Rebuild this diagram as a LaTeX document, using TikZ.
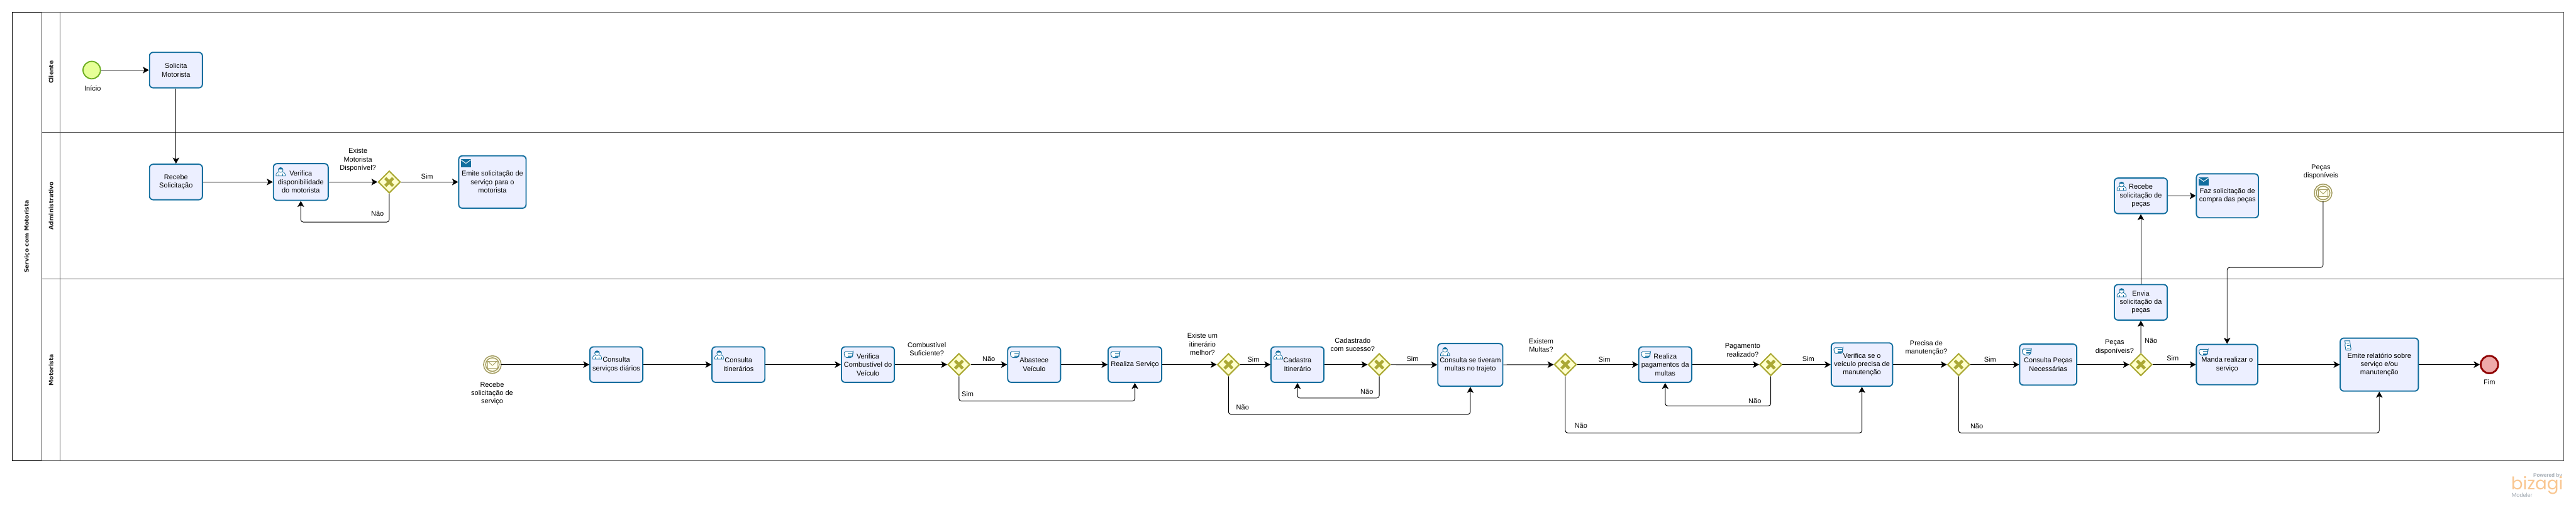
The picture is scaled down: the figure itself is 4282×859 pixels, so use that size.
\documentclass[tikz,border=0pt]{standalone}
\usepackage{fontspec}
\setmainfont{Liberation Sans}
\newfontfamily\lanefont{DejaVu Sans}
\newfontfamily\logofont{Poppins}
\usetikzlibrary{arrows.meta, shapes.geometric}

\definecolor{taskfill}{HTML}{ECEFFF}
\definecolor{taskline}{HTML}{126E9E}
\definecolor{gatefill}{HTML}{FFFFCC}
\definecolor{gateline}{HTML}{ABA935}
\definecolor{startfill}{HTML}{E6FF97}
\definecolor{startline}{HTML}{6DAE22}
\definecolor{msgfill}{HTML}{FFFFEE}
\definecolor{msgline}{HTML}{A39C62}
\definecolor{endfill}{HTML}{EEA9A9}
\definecolor{endline}{HTML}{8F0000}
\definecolor{laneline}{HTML}{555555}
\definecolor{logoorange}{HTML}{F9C690}
\definecolor{logogray}{HTML}{A3ABB3}

\begin{document}
\begin{tikzpicture}[
  x=1pt, y=-1pt,
  >={Stealth[length=10pt, width=11pt, inset=2.5pt]},
  lanebox/.style={draw=laneline, line width=1pt, outer sep=0pt, anchor=north west},
  lanetitle/.style={font=\lanefont\bfseries\fontsize{9.6}{11}\selectfont, text=black!90, rotate=90},
  task/.style 2 args={draw=taskline, line width=2pt, fill=taskfill, rounded corners=6pt,
    minimum width=#1, minimum height=#2, inner sep=0pt, align=center,
    font=\fontsize{11.5}{14}\selectfont},
  gate/.style={diamond, aspect=1, draw=gateline, line width=2.2pt, fill=gatefill,
    minimum width=37pt, minimum height=37pt, inner sep=0pt,
    path picture={
      \draw[gateline, line width=5pt]
        ([shift={(-6.5,-6.5)}]path picture bounding box.center) -- ++(13,13)
        ([shift={(6.5,-6.5)}]path picture bounding box.center) -- ++(-13,13);}},
  startev/.style={circle, draw=startline, line width=2pt, fill=startfill, minimum size=29pt, inner sep=0pt},
  msgev/.style={circle, draw=msgline, line width=1.7pt, double=msgfill, double distance=1.6pt,
    fill=msgfill, minimum size=26pt, inner sep=0pt},
  endev/.style={circle, draw=endline, line width=3pt, fill=endfill, minimum size=29pt, inner sep=0pt},
  txt/.style={inner sep=0pt, align=center, font=\fontsize{11.5}{14}\selectfont},
  flow/.style={->, line width=1pt, rounded corners=4pt},
  icon/.style={taskline, line width=0.8pt},
  usericon/.pic={
    \draw[icon, fill=white] (5.5,21.5) -- (5.5,18.5) .. controls (5.5,15.5) and (9,15.5) .. (10,14.5)
      -- (16,14.5) .. controls (17,15.5) and (20.5,15.5) .. (20.5,18.5) -- (20.5,21.5) -- cycle;
    \draw[icon, fill=white] (13,11.5) circle[radius=4];
    \fill[taskline] (9.2,10.5) .. controls (9.5,6.5) and (16.5,6.5) .. (16.8,10.5) -- cycle;
    \draw[icon] (9.5,21.5) -- (9.5,18) (16.5,21.5) -- (16.5,18);
  },
  manualicon/.pic={
    \draw[icon, fill=white, line width=1pt, rounded corners=2pt] (5.5,9) -- (21,9) -- (19.5,12) -- (20,15) -- (18,19)
      -- (8,19) -- (5.5,15) -- cycle;
    \draw[icon] (12,12) -- (20,12) (12,15) -- (19.5,15) (12,17) -- (18,17);
  },
  scripticon/.pic={
    \draw[icon, fill=white, line width=1pt] (8.5,5.5) -- (17,5.5) .. controls (19,9) and (16,11) .. (18,14)
      .. controls (19.5,17) and (18.5,19) .. (18.5,21) -- (10.5,21)
      .. controls (11,18) and (8.5,16) .. (9,13) .. controls (10,10) and (9.5,8) .. (8.5,5.5) -- cycle;
    \draw[icon] (11.5,9.5) -- (16,9.5) (12,13) -- (16.5,13) (12.5,17) -- (17,17);
  },
  msgicon/.pic={
    \fill[taskline] (4.5,7) rectangle (21.5,20);
    \draw[white, line width=1pt] (4.5,7.5) -- (13,13.5) -- (21.5,7.5);
  },
  envelope/.pic={
    \draw[msgline, line width=0.9pt] (-8,-6) rectangle (8,6);
    \draw[msgline, line width=0.9pt] (-8,-6) -- (0,1.5) -- (8,-6);
  },
]
\useasboundingbox (0,0) rectangle (4282,859);

% --- Pool and lanes ---
\node[lanebox, draw=black, minimum width=50pt, minimum height=746pt] (pool) at (20,20) {};
\node[lanebox, minimum width=4192pt, minimum height=200pt] (lanecliente) at (70,20) {};
\node[lanebox, minimum width=4192pt, minimum height=244pt] (laneadmin) at (70,220) {};
\node[lanebox, minimum width=4192pt, minimum height=302pt] (lanemotorista) at (70,464) {};
\node[lanebox, minimum width=30pt, minimum height=200pt] (headcliente) at (70,20) {};
\node[lanebox, minimum width=30pt, minimum height=244pt] (headadmin) at (70,220) {};
\node[lanebox, minimum width=30pt, minimum height=302pt] (headmotorista) at (70,464) {};

\node[lanetitle] (titlepool) at (pool.center) {Serviço com Motorista};
\node[lanetitle] (titlecliente) at (headcliente.center) {Cliente};
\node[lanetitle] (titleadmin) at (headadmin.center) {Administrativo};
\node[lanetitle] (titlemotorista) at (headmotorista.center) {Motorista};

% --- Cliente ---
\node[startev] (inicio) at (152.5,116.5) {};
\node[txt] (txtinicio) at (154,147) {Início};
\node[task={88pt}{59pt}] (solicita) at (292.5,116.5) {Solicita\\Motorista};

% --- Administrativo ---
\node[task={88pt}{59pt}] (recebesol) at (292.5,302.5) {Recebe\\Solicitação};
\node[task={91pt}{61pt}] (verifdisp) at (500,302.5) {Verifica\\disponibilidade\\do motorista};
\node[gate] (gwdisp) at (647,302.5) {};
\node[txt] (txtdisp) at (595,266) {Existe\\Motorista\\Disponível?};
\node[task={112pt}{87pt}] (emitesol) at (818.5,302.5) {Emite solicitação de\\serviço para o\\motorista};
\node[txt] (simdisp) at (710,293) {Sim};
\node[txt] (naodisp) at (627.5,355) {Não};

\node[task={88pt}{59pt}] (recebepecas) at (3558.6,325.5) {Recebe\\solicitação de\\peças};
\node[task={103pt}{73pt}] (fazcompra) at (3702.5,325.5) {Faz solicitação de\\compra das peças};
\node[msgev] (evpecas) at (3861.6,320.7) {};
\node[txt] (txtevpecas) at (3858,286) {Peças\\disponíveis};

% --- Motorista ---
\node[msgev] (evrecebe) at (818.5,606) {};
\node[txt] (txtevrecebe) at (818,654) {Recebe\\solicitação de\\serviço};
\node[task={88pt}{59pt}] (consserv) at (1024.5,606) {Consulta\\serviços diários};
\node[task={88pt}{59pt}] (consitin) at (1227.5,606) {Consulta\\Itinerários};
\node[task={88pt}{59pt}] (verifcomb) at (1442.7,606) {Verifica\\Combustível do\\Veículo};
\node[gate] (gwcomb) at (1594,606) {};
\node[txt] (txtcomb) at (1540.6,580) {Combustível\\Suficiente?};
\node[txt] (naocomb) at (1643.6,596) {Não};
\node[txt] (simcomb) at (1608.5,655) {Sim};
\node[task={88pt}{59pt}] (abastece) at (1719,606) {Abastece\\Veículo};
\node[task={89pt}{59pt}] (realiza) at (1886.5,606) {Realiza Serviço};
\node[gate] (gwitin) at (2042,606) {};
\node[txt] (txtitin) at (1998.8,572) {Existe um\\itinerário\\melhor?};
\node[txt] (simitin) at (2083.6,598) {Sim};
\node[txt] (naoitin) at (2065.5,677) {Não};
\node[task={88pt}{59pt}] (cadastra) at (2156.7,606) {Cadastra\\Itinerário};
\node[gate] (gwcad) at (2292.7,606) {};
\node[txt] (txtcad) at (2248.5,573) {Cadastrado\\com sucesso?};
\node[txt] (simcad) at (2348,596) {Sim};
\node[txt] (naocad) at (2272,651) {Não};
\node[task={108pt}{71pt}] (consmultas) at (2444,606.5) {Consulta se tiveram\\multas no trajeto};
\node[gate] (gwmultas) at (2602,606) {};
\node[txt] (txtmultas) at (2561.8,574) {Existem\\Multas?};
\node[txt] (simmultas) at (2667,597) {Sim};
\node[txt] (naomultas) at (2628,707) {Não};
\node[task={88pt}{59pt}] (pagamento) at (2768,606) {Realiza\\pagamentos da\\multas};
\node[gate] (gwpag) at (2943.5,606) {};
\node[txt] (txtpag) at (2896.7,582) {Pagamento\\realizado?};
\node[txt] (simpag) at (3005.8,596) {Sim};
\node[txt] (naopag) at (2917,666.7) {Não};
\node[task={102pt}{72pt}] (verifmanut) at (3095,606) {Verifica se o\\veículo precisa de\\manutenção};
\node[gate] (gwmanut) at (3255.7,606) {};
\node[txt] (txtmanut) at (3202,578) {Precisa de\\manutenção?};
\node[txt] (simmanut) at (3308,597) {Sim};
\node[txt] (naomanut) at (3285.8,708) {Não};
\node[task={95pt}{68pt}] (conspecas) at (3404.6,606) {Consulta Peças\\Necessárias};
\node[gate] (gwpecas) at (3558.7,606) {};
\node[txt] (txtpecas) at (3515,577) {Peças\\disponíveis?};
\node[txt] (simpecas) at (3611.7,595) {Sim};
\node[txt] (naopecas) at (3575.5,566) {Não};
\node[task={88pt}{59pt}] (enviasol) at (3558.6,502.5) {Envia\\solicitação da\\peças};
\node[task={102pt}{67pt}] (manda) at (3702,606) {Manda realizar o\\serviço};
\node[task={130pt}{88pt}] (emiterel) at (3955,606) {Emite relatório sobre\\serviço e/ou\\manutenção};
\node[endev] (fim) at (4138,606) {};
\node[txt] (txtfim) at (4138,635) {Fim};

% --- Task markers ---
\pic at (verifdisp.north west) {usericon};
\pic at (emitesol.north west) {msgicon};
\pic at (recebepecas.north west) {usericon};
\pic at (fazcompra.north west) {msgicon};
\pic at (consserv.north west) {usericon};
\pic at (consitin.north west) {usericon};
\pic at (verifcomb.north west) {manualicon};
\pic at (abastece.north west) {manualicon};
\pic at (realiza.north west) {manualicon};
\pic at (cadastra.north west) {usericon};
\pic at (consmultas.north west) {usericon};
\pic at (pagamento.north west) {manualicon};
\pic at (verifmanut.north west) {manualicon};
\pic at (conspecas.north west) {manualicon};
\pic at (enviasol.north west) {usericon};
\pic at (manda.north west) {manualicon};
\pic at (emiterel.north west) {scripticon};
\pic at (evrecebe.center) {envelope};
\pic at (evpecas.center) {envelope};

% --- Flows ---
\draw[flow] (inicio) -- (solicita);
\draw[flow] (solicita) -- (recebesol);
\draw[flow] (recebesol) -- (verifdisp);
\draw[flow] (verifdisp) -- (gwdisp);
\draw[flow] (gwdisp) -- (emitesol);
\draw[flow] (gwdisp.south) -- ++(0,47) -| (verifdisp.south);

\draw[flow] (evrecebe) -- (consserv);
\draw[flow] (consserv) -- (consitin);
\draw[flow] (consitin) -- (verifcomb);
\draw[flow] (verifcomb) -- (gwcomb);
\draw[flow] (gwcomb) -- (abastece);
\draw[flow] (abastece) -- (realiza);
\draw[flow] (gwcomb.south) -- ++(0,41) -| (realiza.south);
\draw[flow] (realiza) -- (gwitin);
\draw[flow] (gwitin) -- (cadastra);
\draw[flow] (cadastra) -- (gwcad);
\draw[flow] (gwcad.south) -- ++(0,36) -| (cadastra.south);
\draw[flow] (gwcad) -- (consmultas);
\draw[flow] (gwitin.south) -- ++(0,63) -| (consmultas.south);
\draw[flow] (consmultas) -- (gwmultas);
\draw[flow] (gwmultas) -- (pagamento);
\draw[flow] (pagamento) -- (gwpag);
\draw[flow] (gwpag.south) -- ++(0,49) -| (pagamento.south);
\draw[flow] (gwpag) -- (verifmanut);
\draw[flow] (gwmultas.south) -- ++(0,94) -| (verifmanut.south);
\draw[flow] (verifmanut) -- (gwmanut);
\draw[flow] (gwmanut) -- (conspecas);
\draw[flow] (gwmanut.south) -- ++(0,94) -| (emiterel.south);
\draw[flow] (conspecas) -- (gwpecas);
\draw[flow] (gwpecas) -- (manda);
\draw[flow] (gwpecas) -- (enviasol);
\draw[flow] (enviasol) -- (recebepecas);
\draw[flow] (recebepecas) -- (fazcompra);
\draw[flow] (evpecas.south) -- ++(0,110) -| (manda.north);
\draw[flow] (manda) -- (emiterel);
\draw[flow] (emiterel) -- (fim);

% --- Logo ---
\node[inner sep=0pt, anchor=east, text=logogray, font=\bfseries\fontsize{8.5}{10}\selectfont] (logopowered) at (4259,791) {Powered by};
\node[inner sep=0pt, anchor=west, text=logoorange, font=\logofont\fontsize{29}{30}\selectfont] (logoname) at (4174,807) {bizagi};
\node[inner sep=0pt, anchor=west, text=logogray, font=\fontsize{9.5}{11}\selectfont] (logomodeler) at (4175,823) {Modeler};

\end{tikzpicture}
\end{document}
